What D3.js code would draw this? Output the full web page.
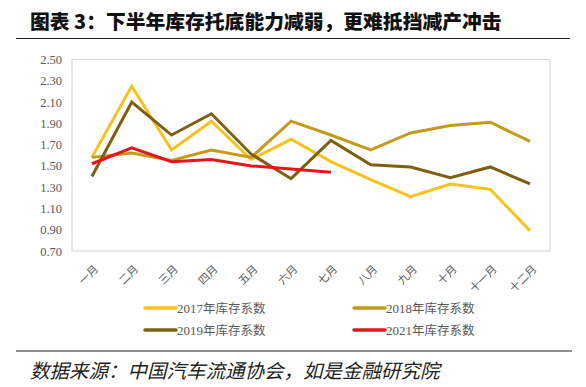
<!DOCTYPE html>
<html><head><meta charset="utf-8">
<script src="https://cdn.jsdelivr.net/npm/d3@7"></script>
<style>body{margin:0;background:#fff}svg{display:block}</style>
</head><body>
<svg id="c" width="586" height="387"></svg>
<script>
const months = ["一月","二月","三月","四月","五月","六月","七月","八月","九月","十月","十一月","十二月"];
const yTicks = [0.70,0.90,1.10,1.30,1.50,1.70,1.90,2.10,2.30,2.50];
const s2017 = [1.58,2.25,1.65,1.92,1.56,1.75,1.54,1.37,1.21,1.33,1.28,0.89];
const s2018 = [1.58,1.62,1.55,1.65,1.58,1.92,1.79,1.65,1.81,1.88,1.91,1.73];
const s2019 = [1.40,2.10,1.79,1.99,1.61,1.38,1.74,1.51,1.49,1.39,1.49,1.33];
const s2021 = [1.52,1.67,1.54,1.56,1.50,1.47,1.44];
const seriesNames = ["2017年库存系数","2018年库存系数","2019年库存系数","2021年库存系数"];
const colors = ["#F7C11E","#C49A1C","#7C6012","#E8141C"];

const svg = d3.select("#c");
const L=72,R=550,T=59.5,B=251;
const x = d3.scalePoint().domain(months).range([L,R]).padding(0.5);
const y = d3.scaleLinear().domain([0.7,2.5]).range([B,T]);

// title
svg.append("text").attr("x",30).attr("y",29)
  .style("font-family","'Noto Sans CJK SC'").style("font-weight","900").style("font-size","19.8px")
  .attr("fill","#111").text("图表 3：下半年库存托底能力减弱，更难抵挡减产冲击");
svg.append("line").attr("x1",16).attr("x2",570).attr("y1",38.5).attr("y2",38.5).attr("stroke","#222").attr("stroke-width",1.2);

// frame
svg.append("rect").attr("x",L).attr("y",T).attr("width",R-L).attr("height",B-T)
  .attr("fill","none").attr("stroke","#D9D9D9").attr("stroke-width",1.2);

// y axis
const ya = svg.append("g").attr("transform",`translate(${L},0)`)
  .call(d3.axisLeft(y).tickValues(yTicks).tickFormat(d3.format(".2f")).tickSize(0).tickPadding(10));
ya.select(".domain").remove();
ya.selectAll("text").style("font-family","'Liberation Serif'").style("font-size","12.5px").attr("fill","#595959");

// x labels
const xa = svg.append("g").attr("transform",`translate(0,${B})`)
  .call(d3.axisBottom(x).tickSize(0).tickPadding(0));
xa.select(".domain").remove();
xa.selectAll("text")
  .style("font-family","'Noto Sans CJK SC'").style("font-size","11px").attr("fill","#595959")
  .attr("text-anchor","end").attr("dy","0.35em").attr("y",0)
  .attr("transform","translate(4,16) rotate(-45)");

// lines
const all = [s2017,s2018,s2019,s2021];
const line = d3.line().x((d,i)=>x(months[i])).y(d=>y(d));
all.forEach((s,k)=>{
  svg.append("path").datum(s).attr("d",line).attr("fill","none")
    .attr("stroke",colors[k]).attr("stroke-width",3).attr("stroke-linejoin","miter");
});

// legend
const lg = [[145,308],[354,308],[145,330],[354,330]];
seriesNames.forEach((n,k)=>{
  const [lx,ly]=lg[k];
  svg.append("line").attr("x1",lx).attr("x2",lx+31).attr("y1",ly).attr("y2",ly)
    .attr("stroke",colors[k]).attr("stroke-width",3.5).attr("stroke-linecap","round");
  const t = svg.append("text").attr("x",lx+32).attr("y",ly).attr("dy","0.35em")
    .style("font-size","13px").attr("fill","#595959");
  t.append("tspan").style("font-family","'Liberation Serif'").text(n.slice(0,4));
  t.append("tspan").style("font-family","'Noto Sans CJK SC'").style("font-size","12.5px").text(n.slice(4));
});

// bottom rule and source
svg.append("line").attr("x1",16).attr("x2",572).attr("y1",351).attr("y2",351).attr("stroke","#222").attr("stroke-width",1.2);
svg.append("text").attr("x",30).attr("y",378)
  .style("font-family","'Noto Sans CJK SC'").style("font-style","italic").style("font-size","19.5px")
  .attr("fill","#222").text("数据来源：中国汽车流通协会，如是金融研究院");
</script>
</body></html>
